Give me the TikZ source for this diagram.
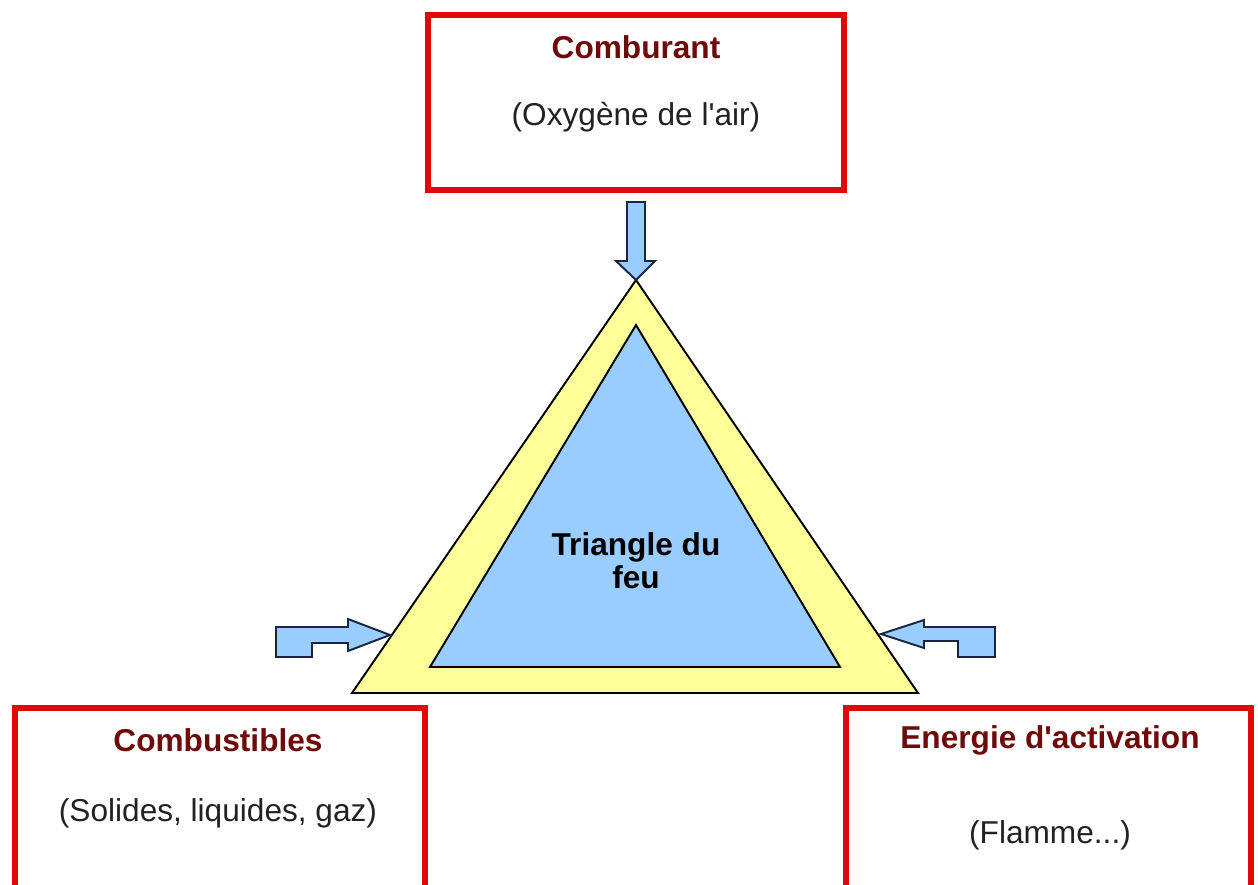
\documentclass[tikz,border=0pt]{standalone}
\usepackage{fontspec}
\setmainfont{Liberation Sans}
\definecolor{boxred}{HTML}{E00808}
\definecolor{titlered}{HTML}{700A0A}
\definecolor{subgray}{HTML}{222222}
\definecolor{arrowblue}{HTML}{99CCFF}
\definecolor{arrowline}{HTML}{1A2640}
\definecolor{triyellow}{HTML}{FFFF99}
\definecolor{triblue}{HTML}{99CCFF}
\begin{document}
\begin{tikzpicture}[x=0.02cm,y=-0.02cm,
  redbox/.style={draw=boxred,line width=3.4pt,fill=white,inner sep=0pt,rectangle},
  titletext/.style={font=\fontsize{18}{20}\selectfont\bfseries,text=titlered,inner sep=0pt},
  subtext/.style={font=\fontsize{18}{20}\selectfont,text=subgray,inner sep=0pt},
  blockarrow/.style={draw=arrowline,fill=arrowblue,line width=1.1pt,line join=miter},
  tri/.style={draw=black,line width=1.1pt,line join=miter}]
\useasboundingbox (0,0) rectangle (1258,885);
\fill[white] (0,0) rectangle (1258,885);

% boxes
\node[redbox,minimum width=8.32cm,minimum height=3.52cm] (top) at (636,102.5) {};
\node[titletext] (topt) at (636,47) {Comburant};
\node[subtext] (tops) at (636,117) {(Oxygène de l\textquotesingle air)};

\node[redbox,minimum width=8.2cm,minimum height=3.74cm] (left) at (220,801.5) {};
\node[titletext] (leftt) at (218,740) {Combustibles};
\node[subtext] (lefts) at (218,813) {(Solides, liquides, gaz)};

\node[redbox,minimum width=8.1cm,minimum height=3.74cm] (right) at (1048.5,801.5) {};
\node[titletext] (rightt) at (1050,740) {Energie d\textquotesingle activation};
\node[subtext] (rights) at (1050,835) {(Flamme...)};

% triangle
\coordinate (oa) at (636,280);
\coordinate (ol) at (352,693);
\coordinate (or) at (918,693);
\coordinate (ia) at (636,325);
\coordinate (il) at (430,667);
\coordinate (ir) at (840,667);
\draw[tri,fill=triyellow] (oa) -- (ol) -- (or) -- cycle;
\draw[tri,fill=triblue] (ia) -- (il) -- (ir) -- cycle;
\node[font=\fontsize{18}{19}\selectfont\bfseries,align=center,inner sep=0pt] (feu) at (636,561) {Triangle du\\feu};

% block arrows
\draw[blockarrow] (627,202) -- (645,202) -- (645,261) -- (655,261) -- (oa) -- (616,261) -- (627,261) -- cycle;
\draw[blockarrow] (276,627) -- (348,627) -- (348,619) -- (390,635) -- (348,651) -- (348,643) -- (312,643) -- (312,657) -- (276,657) -- cycle;
\draw[blockarrow] (881,634) -- (924,620) -- (924,627) -- (995,627) -- (995,657) -- (958,657) -- (958,641) -- (924,641) -- (924,648) -- cycle;
\end{tikzpicture}
\end{document}
